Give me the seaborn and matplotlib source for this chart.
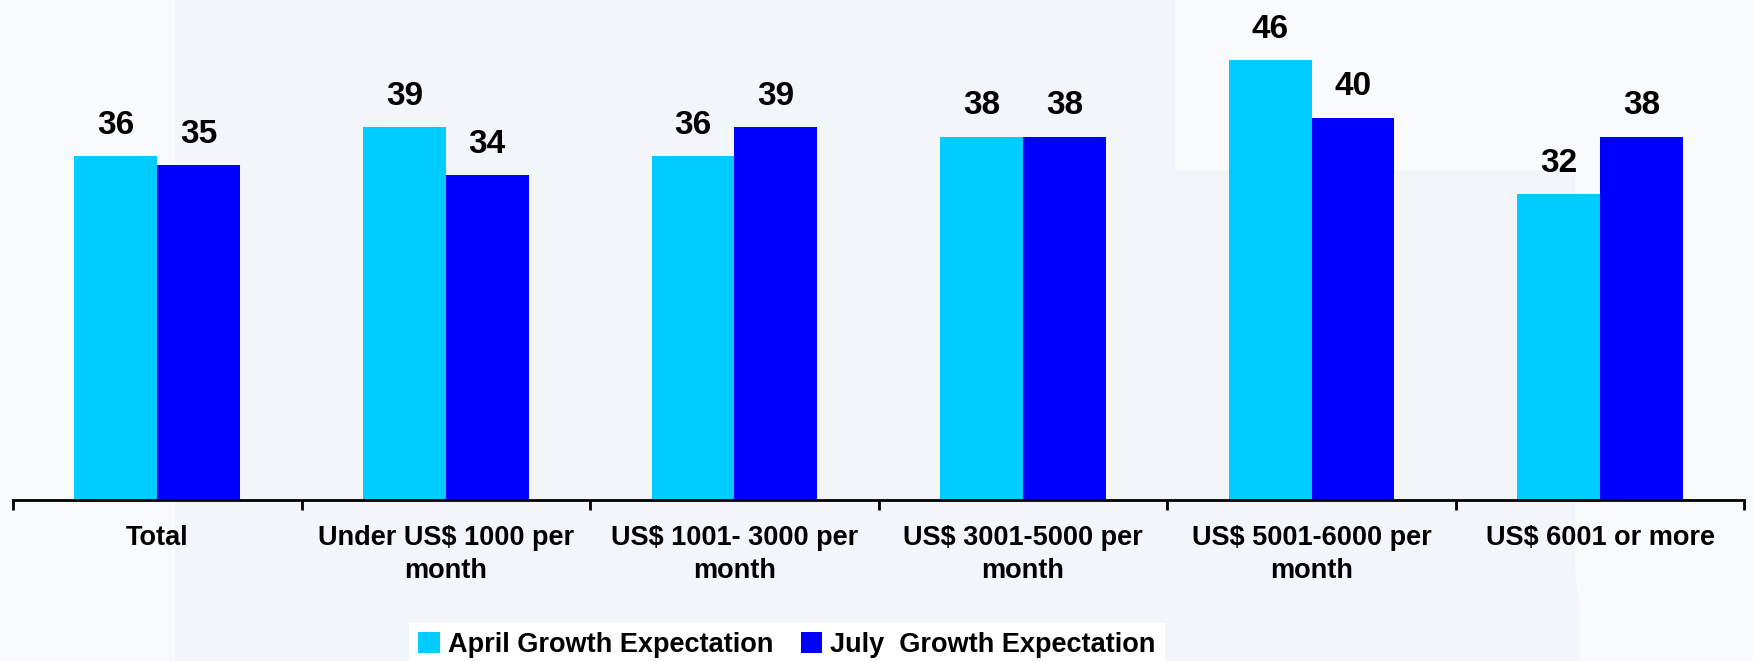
import matplotlib
matplotlib.use("Agg")
import matplotlib.pyplot as plt
from matplotlib import font_manager
from matplotlib.patches import Circle, Rectangle
import seaborn as sns
import pandas as pd

categories = ["Total", "Under US$ 1000 per\nmonth", "US$ 1001- 3000 per\nmonth",
              "US$ 3001-5000 per\nmonth", "US$ 5001-6000 per\nmonth", "US$ 6001 or more"]
april = [36, 39, 36, 38, 46, 32]
july = [35, 34, 39, 38, 40, 38]
series_names = ["April Growth Expectation", "July  Growth Expectation"]
colors = ["#00CCFF", "#0000FF"]

df = pd.DataFrame({
    "category": categories * 2,
    "value": april + july,
    "series": [series_names[0]] * len(categories) + [series_names[1]] * len(categories),
})

sns.set_theme(style="white")
plt.rcParams["font.family"] = ["Liberation Sans", "DejaVu Sans"]
plt.rcParams["text.color"] = "black"
plt.rcParams["xtick.color"] = "black"

available = {f.name for f in font_manager.fontManager.ttflist}
narrow = "Liberation Sans Narrow" if "Liberation Sans Narrow" in available else "Liberation Sans"

bg = "#F8FAFC"
fig = plt.figure(figsize=(17.53, 6.61), dpi=100, facecolor=bg)

# faint decorative backdrop behind the chart
back = fig.add_axes([0, 0, 1, 1], zorder=-1)
back.set_xlim(0, 1753)
back.set_ylim(661, 0)
back.axis("off")
back.add_patch(Rectangle((175, 0), 1000, 661, facecolor="#F2F5F9", edgecolor="none"))
back.add_patch(Circle((1130, 640), 450, facecolor="#F2F5F9", edgecolor="none"))
back.add_patch(Rectangle((175, 170), 1400, 491, facecolor="#F2F5F9", edgecolor="none"))

ax = fig.add_axes([0.0074, 0.2436, 0.9877, 0.7564], zorder=1)
ax.set_facecolor("none")

sns.barplot(data=df, x="category", y="value", hue="series", palette=colors,
            width=0.574, gap=0, saturation=1, ax=ax, order=categories,
            hue_order=series_names, edgecolor="none", linewidth=0)

ax.set_ylim(0, 52.3)
ax.set_xlim(-0.5, len(categories) - 0.5)
ax.set_xlabel("")
ax.set_ylabel("")
ax.set_yticks([])

for s in ["left", "right", "top"]:
    ax.spines[s].set_visible(False)
ax.spines["bottom"].set_color("black")
ax.spines["bottom"].set_linewidth(2)

ax.set_xticks(range(len(categories)))
ax.set_xticklabels(categories, fontsize=19.5, fontweight="bold", linespacing=1.35,
                   color="black")
ax.tick_params(axis="x", which="major", length=0, pad=18)
ax.set_xticks([i - 0.5 for i in range(len(categories) + 1)], minor=True)
ax.tick_params(axis="x", which="minor", length=7, width=2, color="black", bottom=True)

for cont in ax.containers:
    ax.bar_label(cont, fmt="%d", padding=11, fontsize=24, fontweight="bold",
                 family=narrow, color="black")

handles, labels = ax.get_legend_handles_labels()
if ax.get_legend() is not None:
    ax.get_legend().remove()
leg = fig.legend(handles, labels, loc="center", bbox_to_anchor=(0.449, 0.024),
                 ncol=2, frameon=True, fancybox=False, facecolor="white",
                 edgecolor="none", framealpha=1,
                 prop={"weight": "bold", "size": 19.5},
                 handlelength=0.8, handleheight=0.8, handletextpad=0.3,
                 columnspacing=1.0, borderpad=0.35)
for t in leg.get_texts():
    t.set_color("black")

fig.savefig("out.png", dpi=100, facecolor=bg)
